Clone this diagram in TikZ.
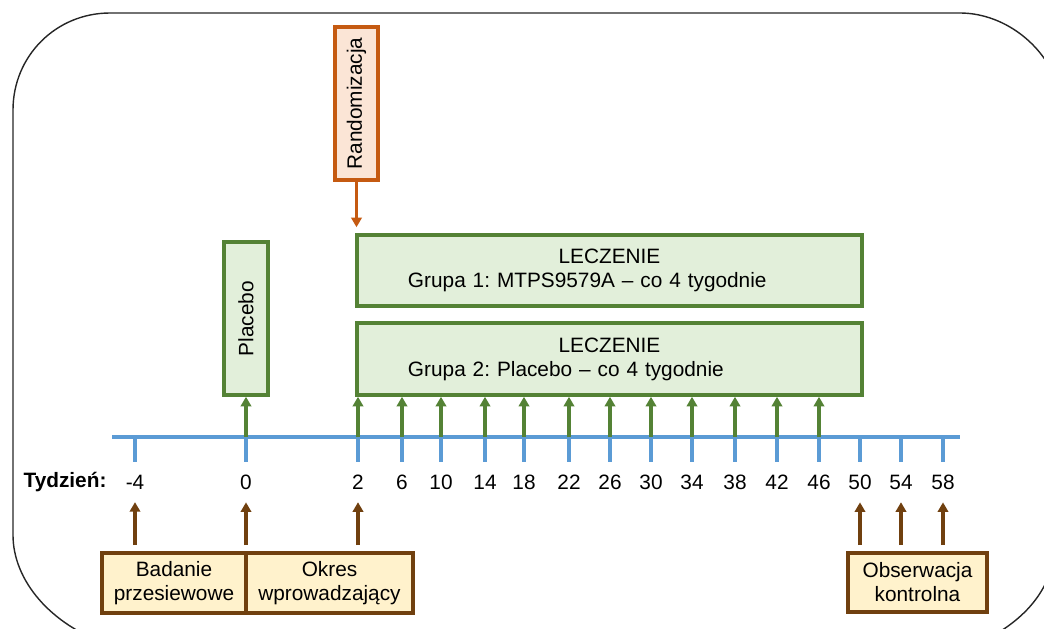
\documentclass[tikz,border=0pt]{standalone}
\usepackage{fontspec}
\setmainfont{Liberation Sans}
\usetikzlibrary{arrows.meta}

\definecolor{axisblue}{HTML}{5B9BD5}
\definecolor{rxgreen}{HTML}{548235}
\definecolor{rxfill}{HTML}{E2EFDA}
\definecolor{randorange}{HTML}{C55A11}
\definecolor{randfill}{HTML}{FBE5D6}
\definecolor{visitbrown}{HTML}{70400F}
\definecolor{visitfill}{HTML}{FFF2CC}

\tikzset{
	axisline/.style={axisblue, line width=2.4pt},
	rxbox/.style={draw=rxgreen, fill=rxfill, line width=2.5pt, inner sep=0pt},
	randbox/.style={draw=randorange, fill=randfill, line width=2.5pt, inner sep=0pt},
	visitbox/.style={draw=visitbrown, fill=visitfill, line width=2.5pt, inner sep=0pt, align=center},
	rxarrow/.style={rxgreen, line width=2.4pt, -{Triangle[length=2.4mm, width=2.6mm]}},
	randarrow/.style={randorange, line width=2.4pt, -{Triangle[length=2.4mm, width=2.6mm]}},
	visitarrow/.style={visitbrown, line width=2.4pt, -{Triangle[length=2.4mm, width=2.6mm]}}
}

\begin{document}
\frenchspacing
\begin{tikzpicture}[x=0.25mm, y=-0.25mm, font=\fontsize{14.8}{17}\selectfont]
		\useasboundingbox (0,0) rectangle (1044,629);
		\begin{scope}
		\clip (0,0) rectangle (1044,629);
		\draw [black!85, line width=1pt] (13,535) -- (13,110) .. controls (13,56) and (56,13) .. (110,13) -- (960,13)
			.. controls (1000,13) and (1040,40) .. (1056,80) -- (1056,545)
			.. controls (1052,590) and (1025,622) .. (975,645) -- (110,645)
			.. controls (50,625) and (13,580) .. (13,535);
		\end{scope}
		
		% week axis
		\coordinate (axl) at (112,437);
		\coordinate (axr) at (960,437);
		\draw [axisline] (axl) -- (axr);
		\foreach \w/\x in {-4/135, 0/246, 2/358, 6/402, 10/441, 14/485, 18/524, 22/569, 26/610, 30/651, 34/692, 38/735, 42/777, 46/819, 50/860, 54/901, 58/943} {
			\coordinate (w\w) at (\x,437);
			\draw [axisline] (w\w) -- ++(0,25);
			\node (lab\w) at (\x,482) {\w};
		}
		\node [font=\fontsize{14.8}{17}\selectfont\bfseries] (tyd) at (65,482) {Tydzień:};
		
		% treatment
		\node [randbox, rotate=90, minimum width=38.25mm, minimum height=10.75mm] (rand) at (356.5,103.5) {Randomizacja};
		\node [rxbox, rotate=90, minimum width=38.25mm, minimum height=11mm] (plac) at (246,318.5) {Placebo};
		\node [rxbox, text width=126.25mm, minimum height=17.75mm, align=center] (grp1) at (609.5,270.5)
			{LECZENIE\\\makebox[126.25mm][l]{\hspace*{12.75mm}Grupa 1: MTPS9579A -- co 4 tygodnie}};
		\node [rxbox, text width=126.25mm, minimum height=18mm, align=center] (grp2) at (609.5,359)
			{LECZENIE\\\makebox[126.25mm][l]{\hspace*{12.75mm}Grupa 2: Placebo -- co 4 tygodnie}};
		
		\draw [randarrow, shorten >=1.5mm] (rand.west) -- (rand.west |- grp1.north);
		\draw [rxarrow] (w0) -- (plac.west);
		\foreach \w in {2,6,...,46}
			\draw [rxarrow] (w\w) -- (w\w |- grp2.south);
		
		% visits
		\node [visitbox, minimum width=36mm, minimum height=15mm] (scr) at (174,583) {Badanie\\przesiewowe};
		\node [visitbox, minimum width=41.75mm, minimum height=15mm] (runin) at (329.5,583) {Okres\\wprowadzający};
		\node [visitbox, minimum width=34.75mm, minimum height=14.75mm] (obs) at (917.5,582.5) {Obserwacja\\kontrolna};
		
		\foreach \w in {-4,0}
			\draw [visitarrow, shorten <=1.5mm, shorten >=2mm] (w\w |- scr.north) -- (lab\w.south);
		\draw [visitarrow, shorten <=1.5mm, shorten >=2mm] (w2 |- runin.north) -- (lab2.south);
		\foreach \w in {50,54,58}
			\draw [visitarrow, shorten <=1.5mm, shorten >=2mm] (w\w |- obs.north) -- (lab\w.south);
		
\end{tikzpicture}
\end{document}
